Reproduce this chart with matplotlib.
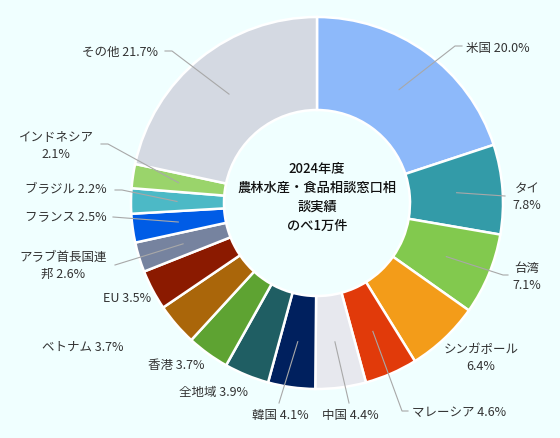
import numpy as np
import matplotlib.pyplot as plt

plt.rcParams['font.family'] = ['Noto Sans CJK JP', 'DejaVu Sans']

# データ（12時から時計回り）
names = ["米国", "タイ", "台湾", "シンガポール", "マレーシア", "中国", "韓国",
         "全地域", "香港", "ベトナム", "EU", "アラブ首長国連邦", "フランス",
         "ブラジル", "インドネシア", "その他"]
shares = [20.0, 7.8, 7.1, 6.4, 4.6, 4.4, 4.1, 3.9, 3.7, 3.7, 3.5, 2.6, 2.5,
          2.2, 2.1, 21.7]
colors = ["#8DB9FA", "#339BA8", "#82C94E", "#F39C19", "#E13A0A", "#E7E8EE",
          "#00205E", "#1F5E63", "#5EA332", "#AA660A", "#8B1A00", "#76839F",
          "#005CE6", "#4CB9C6", "#9AD46B", "#D4D9E2"]
center_text = "2024年度\n農林水産・食品相談窓口相\n談実績\nのべ1万件"

W, H = 560, 439
CX, CY, R = 317, 204, 186   # 画素座標


def py(y):
    return H - y


# ラベル配置: (x, y, ha, 改行位置, 引き出し線の点)
layout = [
    (466, 48, "left", None, [(455, 47), (462, 47)]),
    (527, 197, "center", 2, [(505, 197)]),
    (527, 277, "center", 2, [(503, 276), (508, 276)]),
    (481, 358, "center", 6, []),
    (412, 412, "left", None, [(402, 412), (408, 412)]),
    (350, 416, "center", None, [(349, 404)]),
    (280, 416, "center", None, [(279, 404)]),
    (213, 393, "center", None, []),
    (176, 366, "center", None, []),
    (83, 347, "center", None, []),
    (127, 299, "center", None, []),
    (63, 266, "center", 7, [(115, 266)]),
    (66, 218, "center", None, [(113, 218)]),
    (66, 190, "center", None, [(122, 191), (115, 191)]),
    (56, 146, "center", 6, [(108, 145), (101, 145)]),
    (120, 52, "center", None, [(172, 52), (165, 52)]),
]

fig = plt.figure(figsize=(W / 100, H / 100), dpi=100, facecolor="#F0FFFF")
ax = fig.add_axes([0, 0, 1, 1])
ax.set_facecolor("#F0FFFF")
ax.set_xlim(0, W)
ax.set_ylim(0, H)
ax.axis("off")

wedges, _ = ax.pie(shares, colors=colors, startangle=90, counterclock=False,
                   center=(CX, py(CY)), radius=R, frame=True,
                   wedgeprops=dict(width=R / 2, edgecolor="white", linewidth=1.8))
ax.set_xlim(0, W)
ax.set_ylim(0, H)
ax.axis("off")

cum = np.cumsum([0] + shares[:-1])
total = sum(shares)
for i, (name, v) in enumerate(zip(names, shares)):
    x, y, ha, brk, pts = layout[i]
    label = f"{name} {v:.1f}%"
    if brk is not None:
        label = label[:brk] + "\n" + label[brk:].lstrip()
    ax.text(x, py(y), label, ha=ha, va="center", fontsize=9, color="#333333",
            linespacing=1.35, multialignment="center")
    if pts:
        mid = (cum[i] + v / 2) / total * 2 * np.pi
        sx = CX + 140 * np.sin(mid)
        sy = CY - 140 * np.cos(mid)
        xs = [sx] + [p[0] for p in pts]
        ys = [py(sy)] + [py(p[1]) for p in pts]
        ax.plot(xs, ys, color="#A8A8A8", lw=0.8)

ax.text(CX, py(197), center_text, ha="center", va="center", fontsize=9.5,
        fontweight="medium", color="#111111", linespacing=1.45)

fig.savefig("out.png", dpi=100, facecolor=fig.get_facecolor())
